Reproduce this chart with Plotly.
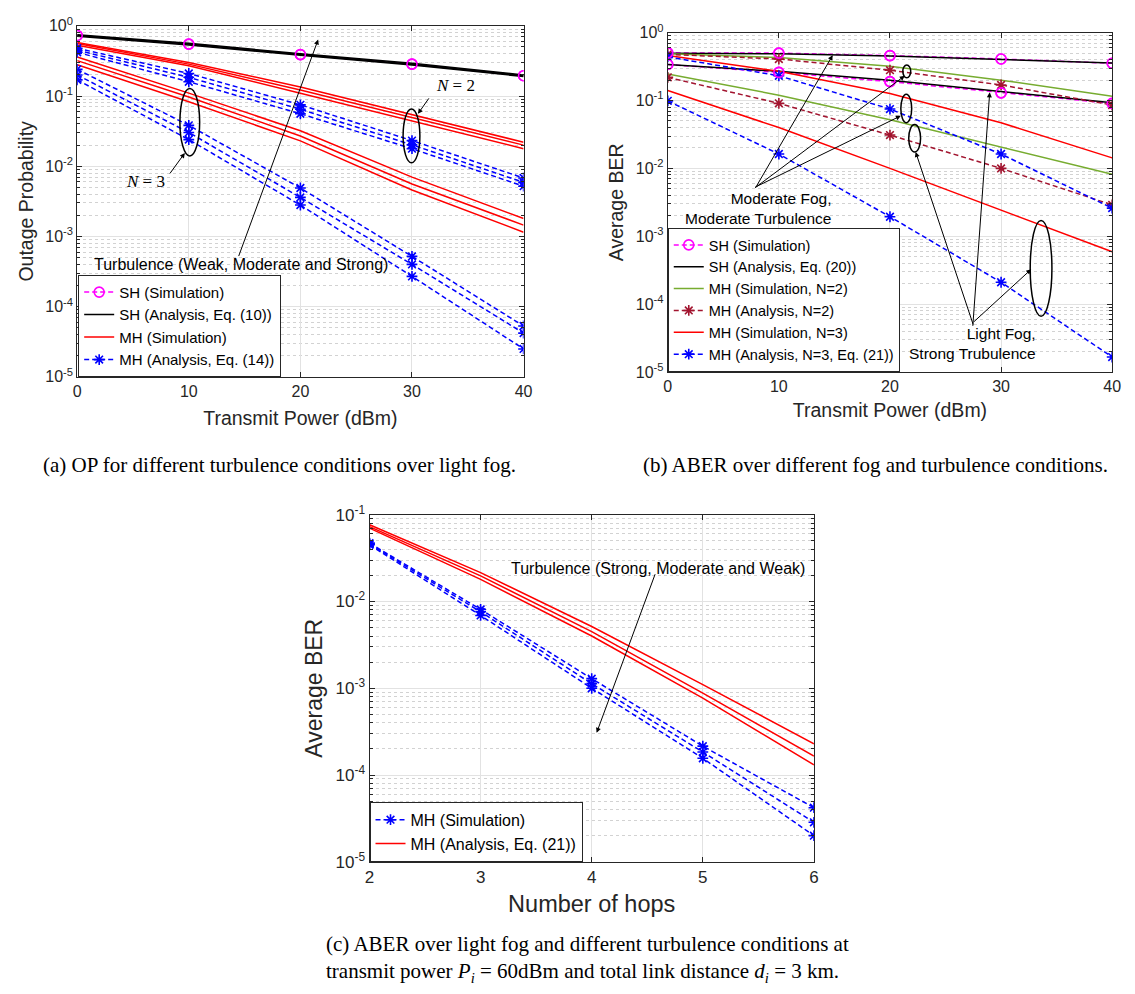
import plotly.graph_objects as go

W, H = 1135, 994
OFF = 8  # default page body margin of the html page

# ---------------- (a) Outage probability over light fog ----------------
a_power = [0, 10, 20, 30, 40]
a_sh_sim = [0.73, 0.55, 0.39, 0.285, 0.195]
a_sh_ana_weak = [0.75, 0.565, 0.40, 0.293, 0.20]
a_sh_ana_mod = [0.73, 0.55, 0.39, 0.285, 0.195]
a_sh_ana_strong = [0.71, 0.535, 0.38, 0.277, 0.19]
a_mh2_sim_weak = [0.58, 0.30, 0.135, 0.0545, 0.022]
a_mh2_sim_mod = [0.56, 0.285, 0.122, 0.049, 0.020]
a_mh2_sim_strong = [0.53, 0.27, 0.11, 0.044, 0.0178]
a_mh3_sim_weak = [0.36, 0.11, 0.032, 0.0070, 0.0018]
a_mh3_sim_mod = [0.32, 0.097, 0.027, 0.0056, 0.00145]
a_mh3_sim_strong = [0.28, 0.083, 0.023, 0.0046, 0.00115]
a_mh2_ana_weak = [0.48, 0.21, 0.075, 0.0232, 0.0068]
a_mh2_ana_mod = [0.45, 0.185, 0.065, 0.0202, 0.0059]
a_mh2_ana_strong = [0.42, 0.16, 0.056, 0.0178, 0.0052]
a_mh3_ana_weak = [0.24, 0.0383, 0.0049, 0.00052, 5.3e-5]
a_mh3_ana_mod = [0.20, 0.0303, 0.0036, 0.00040, 4.2e-5]
a_mh3_ana_strong = [0.17, 0.024, 0.0028, 0.00027, 2.5e-5]

# ---------------- (b) ABER over fog / turbulence ----------------
b_power = [0, 10, 20, 30, 40]
b_sh_sim_mm = [0.505, 0.50, 0.46, 0.41, 0.355]
b_sh_sim_ls = [0.34, 0.26, 0.19, 0.13, 0.091]
b_sh_ana_mm = [0.50, 0.49, 0.455, 0.405, 0.357]
b_sh_ana_ls = [0.34, 0.27, 0.20, 0.137, 0.093]
b_mh2_sim_mm = [0.49, 0.43, 0.32, 0.20, 0.116]
b_mh2_sim_ls = [0.246, 0.12, 0.052, 0.0204, 0.0082]
b_mh2_ana_mm = [0.48, 0.41, 0.28, 0.17, 0.086]
b_mh2_ana_ls = [0.22, 0.091, 0.031, 0.010, 0.0029]
b_mh3_sim_mm = [0.46, 0.27, 0.127, 0.047, 0.0143]
b_mh3_sim_ls = [0.141, 0.040, 0.010, 0.0024, 0.00059]
b_mh3_ana_mm = [0.44, 0.232, 0.075, 0.0163, 0.0026]
b_mh3_ana_ls = [0.099, 0.0163, 0.00194, 0.00021, 1.66e-5]

# ---------------- (c) ABER vs number of hops ----------------
c_hops = [2, 3, 4, 5, 6]
c_sim_1 = [0.047, 0.0081, 0.00129, 0.000215, 4.2e-5]
c_sim_2 = [0.046, 0.0076, 0.00113, 0.000184, 2.85e-5]
c_sim_3 = [0.045, 0.0069, 0.0010, 0.000156, 2.0e-5]
c_ana_1 = [0.0766, 0.0215, 0.00515, 0.0011, 0.000229]
c_ana_2 = [0.073, 0.0197, 0.0045, 0.00088, 0.000165]
c_ana_3 = [0.070, 0.018, 0.0040, 0.00077, 0.000131]

SANS = "Liberation Sans"
SERIF = "Liberation Serif"
AX = "#262626"
GRID = "#e2e2e2"
MGRID = "#d2d2d2"
MAG, BLK, RED, BLUE, GRN, MAR = "#FF00FF", "#000000", "#FF0000", "#0000FF", "#77AC30", "#A2142F"
DASH = "5px,3px"

FW, FH = W - OFF, H - OFF  # figure size so that figure + margin fills the window

fig = go.Figure()


def add(x, y, sub, color, legend, name=None, dash="solid", symbol=None, show=False, width=1.5, msize=9, mode=None):
    xa = "x" if sub == 1 else f"x{sub}"
    ya = "y" if sub == 1 else f"y{sub}"
    if mode is None:
        mode = "lines+markers" if symbol else "lines"
    kw = dict(x=x, y=y, xaxis=xa, yaxis=ya, mode=mode, name=name, showlegend=show, legend=legend,
              line=dict(color=color, width=width, dash=dash))
    if symbol:
        kw["marker"] = dict(symbol=symbol, size=msize, color=color, line=dict(color=color, width=1.6))
    fig.add_trace(go.Scatter(**kw))


# (a)
add(a_power, a_sh_sim, 1, MAG, "legend", "SH (Simulation)", DASH, "circle-open", True, msize=10)
for i, s in enumerate([a_sh_ana_weak, a_sh_ana_mod, a_sh_ana_strong]):
    add(a_power, s, 1, BLK, "legend", "SH (Analysis, Eq. (10))", show=(i == 0))
for i, s in enumerate([a_mh2_sim_weak, a_mh2_sim_mod, a_mh2_sim_strong,
                       a_mh3_sim_weak, a_mh3_sim_mod, a_mh3_sim_strong]):
    add(a_power, s, 1, RED, "legend", "MH (Simulation)", show=(i == 0))
for i, s in enumerate([a_mh2_ana_weak, a_mh2_ana_mod, a_mh2_ana_strong,
                       a_mh3_ana_weak, a_mh3_ana_mod, a_mh3_ana_strong]):
    add(a_power, s, 1, BLUE, "legend", "MH (Analysis, Eq. (14))", DASH, "asterisk-open", show=(i == 0))
add(a_power, a_sh_sim, 1, MAG, "legend", None, symbol="circle-open", mode="markers", msize=10)

# (b)
for i, s in enumerate([b_sh_sim_mm, b_sh_sim_ls]):
    add(b_power, s, 2, MAG, "legend2", "SH (Simulation)", DASH, "circle-open", show=(i == 0), msize=10)
for i, s in enumerate([b_sh_ana_mm, b_sh_ana_ls]):
    add(b_power, s, 2, BLK, "legend2", "SH (Analysis, Eq. (20))", show=(i == 0))
for i, s in enumerate([b_mh2_sim_mm, b_mh2_sim_ls]):
    add(b_power, s, 2, GRN, "legend2", "MH (Simulation, N=2)", show=(i == 0))
for i, s in enumerate([b_mh2_ana_mm, b_mh2_ana_ls]):
    add(b_power, s, 2, MAR, "legend2", "MH (Analysis, N=2)", DASH, "asterisk-open", show=(i == 0))
for i, s in enumerate([b_mh3_sim_mm, b_mh3_sim_ls]):
    add(b_power, s, 2, RED, "legend2", "MH (Simulation, N=3)", show=(i == 0))
for i, s in enumerate([b_mh3_ana_mm, b_mh3_ana_ls]):
    add(b_power, s, 2, BLUE, "legend2", "MH (Analysis, N=3, Eq. (21))", DASH, "asterisk-open", show=(i == 0))
for s in [b_sh_sim_mm, b_sh_sim_ls]:
    add(b_power, s, 2, MAG, "legend2", None, symbol="circle-open", mode="markers", msize=10)

# (c)
for i, s in enumerate([c_sim_1, c_sim_2, c_sim_3]):
    add(c_hops, s, 3, BLUE, "legend3", "MH (Simulation)", DASH, "asterisk-open", show=(i == 0))
for i, s in enumerate([c_ana_1, c_ana_2, c_ana_3]):
    add(c_hops, s, 3, RED, "legend3", "MH (Analysis, Eq. (21))", show=(i == 0))


def px(x):
    return (x - OFF) / FW


def py(y):
    return 1 - (y - OFF) / FH


def xaxis_cfg(x0, x1, anchor, rng, tickvals, tsize, title, titlesize, standoff):
    return dict(domain=[px(x0), px(x1)], anchor=anchor, range=rng, tickmode="array", tickvals=tickvals,
                ticks="inside", ticklen=5, tickwidth=1, tickcolor=AX, showline=True, linecolor=AX, linewidth=1,
                mirror="ticks", showgrid=True, gridcolor=GRID, gridwidth=1, zeroline=False,
                tickfont=dict(family=SANS, size=tsize, color=AX),
                title=dict(text=title, font=dict(family=SANS, size=titlesize, color=AX), standoff=standoff))


def yaxis_cfg(y0, y1, anchor, lo, hi, tsize, title, titlesize, standoff):
    exps = list(range(lo, hi + 1))
    tickvals = [10.0 ** e for e in exps]
    ticktext = [f"10<sup>{e}</sup>" for e in exps]
    minor_vals = [k * 10.0 ** e for e in range(lo, hi) for k in range(2, 10)]
    return dict(domain=[py(y1), py(y0)], anchor=anchor, type="log", range=[lo, hi],
                tickmode="array", tickvals=tickvals, ticktext=ticktext,
                minor=dict(tickmode="array", tickvals=minor_vals, ticks="inside", ticklen=3, tickcolor=AX,
                           showgrid=True, gridcolor=MGRID, griddash="dot", gridwidth=1),
                ticks="inside", ticklen=5, tickwidth=1, tickcolor=AX, showline=True, linecolor=AX, linewidth=1,
                mirror="ticks", showgrid=True, gridcolor=GRID, gridwidth=1, zeroline=False,
                tickfont=dict(family=SANS, size=tsize, color=AX),
                title=dict(text=title, font=dict(family=SANS, size=titlesize, color=AX), standoff=standoff))


layout = dict(
    width=FW, height=FH, margin=dict(l=0, r=0, t=0, b=0),
    paper_bgcolor="white", plot_bgcolor="white",
    xaxis=xaxis_cfg(73, 525, "y", [0, 40], a_power, 16, "Transmit Power (dBm)", 19.5, 12),
    yaxis=yaxis_cfg(14, 373, "x", -5, 0, 16, "Outage Probability", 19.5, 6),
    xaxis2=xaxis_cfg(671, 1121, "y2", [0, 40], b_power, 16, "Transmit Power (dBm)", 19.5, 9),
    yaxis2=yaxis_cfg(21, 368, "x2", -5, 0, 16, "Average BER", 19.5, 6),
    xaxis3=xaxis_cfg(369, 819, "y3", [2, 6], c_hops, 17, "Number of hops", 23.5, 9),
    yaxis3=yaxis_cfg(514, 869, "x3", -5, -1, 17, "Average BER", 23, 6),
    showlegend=True,
)


def legend_cfg(x, y, size):
    return dict(x=px(x), y=py(y), xanchor="left", yanchor="bottom", bgcolor="white",
                bordercolor=AX, borderwidth=1, font=dict(family=SANS, size=size, color="black"),
                itemwidth=30, tracegroupgap=0)


layout["legend"] = legend_cfg(74, 373, 15)
layout["legend2"] = legend_cfg(671, 368, 14.5)
layout["legend3"] = legend_cfg(369, 869, 16)
fig.update_layout(**layout)


def text(x, y, s, size=14, family=SANS, xanchor="center", align="center"):
    fig.add_annotation(x=px(x), y=py(y), xref="paper", yref="paper", text=s, showarrow=False,
                       font=dict(family=family, size=size, color="black"), xanchor=xanchor,
                       yanchor="middle", align=align)


def arrow(tx, ty, hx, hy):
    fig.add_annotation(x=px(hx), y=py(hy), xref="paper", yref="paper", text="", showarrow=True,
                       ax=tx - hx, ay=ty - hy, axref="pixel", ayref="pixel", arrowhead=2, arrowsize=1,
                       arrowwidth=1, arrowcolor="black", standoff=0, startstandoff=0)


def ellipse(x0, x1, y0, y1):
    fig.add_shape(type="circle", xref="paper", yref="paper", x0=px(x0), x1=px(x1), y0=py(y1), y1=py(y0),
                  line=dict(color="black", width=1.5))


# (a)
ellipse(177, 197, 78, 147)
ellipse(403, 420, 99, 154)
text(142, 173, "<i>N</i> = 3", 17, SERIF)
arrow(166, 166, 182, 144)
text(456, 75, "<i>N</i> = 2", 17, SERIF)
arrow(430, 87, 418, 104)
arrow(237, 246, 317, 28)
text(239, 258, "Turbulence (Weak, Moderate and Strong)", 16)

# (b)
ellipse(909, 917, 54, 67)
ellipse(907, 918, 84, 113)
ellipse(915, 927, 115, 143)
ellipse(1038, 1060, 213, 311)
for hx, hy in [(838, 44), (911, 65), (907, 106)]:
    arrow(760, 178, hx, hy)
for hx, hy in [(997, 82), (922, 143), (1039, 263)]:
    arrow(980, 317, hx, hy)
text(838, 201, "Moderate Fog,<br>Moderate Turbulence", 15.5, xanchor="right", align="right")
text(1046, 339, "Light Fog,<br>Strong Trubulence", 15.5, xanchor="right", align="right")

# (c)
text(661, 569, "Turbulence (Strong, Moderate and Weak)", 16)
arrow(658, 577, 599, 737)

# captions
text(278, 463, "(a) OP for different turbulence conditions over light fog.", 21, SERIF)
text(881, 463, "(b) ABER over different fog and turbulence conditions.", 21, SERIF)
text(323, 968, "(c) ABER over light fog and different turbulence conditions at<br>"
     "transmit power <i>P<sub>i</sub></i> = 60dBm and total link distance <i>d<sub>i</sub></i> = 3 km.",
     21, SERIF, xanchor="left", align="left")

fig.write_html("out.html", config={"displayModeBar": False})
